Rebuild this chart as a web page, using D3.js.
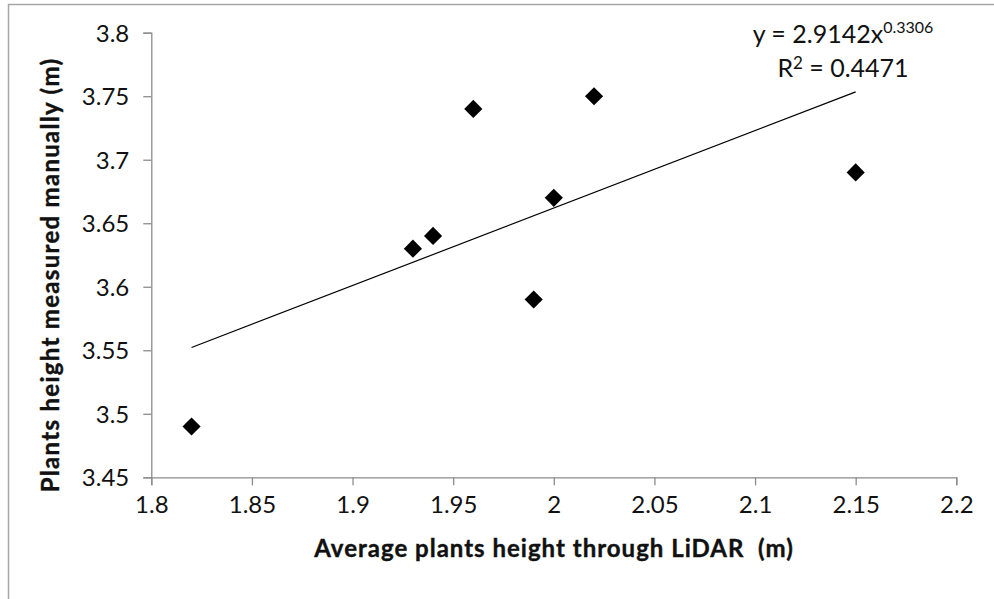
<!DOCTYPE html>
<html>
<head>
<meta charset="utf-8">
<script src="https://cdn.jsdelivr.net/npm/d3@7"></script>
<style>
  body { margin: 0; background: #fff; }
  text { font-family: Lato, "Open Sans", sans-serif; fill: #111; }
</style>
</head>
<body>
<div id="scatterplot"></div>
<script>
// datos
var lidarHeight  = [1.82, 1.93, 1.94, 1.96, 1.99, 2.00, 2.02, 2.15];
var manualHeight = [3.49, 3.63, 3.64, 3.74, 3.59, 3.67, 3.75, 3.69];
var xTicks = [1.8, 1.85, 1.9, 1.95, 2, 2.05, 2.1, 2.15, 2.2];
var yTicks = [3.45, 3.5, 3.55, 3.6, 3.65, 3.7, 3.75, 3.8];
// linea de tendencia potencial y = a*x^b (del texto del grafico)
var trendCoef = [2.9142, 0.3306];
var trendR2 = "0.4471";

var W = 994, H = 599;
var margin = {top: 32.7, left: 151.3, right: 37.7, bottom: 121.7};
var ancho = W - margin.left - margin.right;
var alto = H - margin.top - margin.bottom;

var svg1 = d3.select("#scatterplot").append("svg")
  .attr("width", W).attr("height", H);

// borde del area del grafico
svg1.append("path")
  .attr("d", "M8.5," + H + "V4.5H" + W)
  .attr("fill", "none").attr("stroke", "#a6a6a6").attr("stroke-width", 1.5);

var svg = svg1.append("g")
  .attr("transform", "translate(" + margin.left + "," + margin.top + ")");

var escalaX = d3.scaleLinear().domain([1.8, 2.2]).range([0, ancho]);
var escalaY = d3.scaleLinear().domain([3.45, 3.8]).range([alto, 0]);

var ejeX = svg.append("g")
  .attr("transform", "translate(0," + alto + ")")
  .call(d3.axisBottom(escalaX).tickValues(xTicks).tickSize(8).tickPadding(11).tickFormat(d3.format("")));
var ejeY = svg.append("g")
  .call(d3.axisLeft(escalaY).tickValues(yTicks).tickSize(8).tickPadding(14).tickFormat(d3.format("")));

[ejeX, ejeY].forEach(function(e){
  e.selectAll("path").attr("stroke", "#8c8c8c").attr("stroke-width", 1.3);
  e.selectAll("line").attr("stroke", "#8c8c8c").attr("stroke-width", 1.3);
  e.selectAll("text").style("font-size", "24px").style("fill", "#111")
    .style("font-family", "Lato, sans-serif");
});
ejeY.selectAll("text").attr("dy", "0.36em");

// linea de tendencia
var xs = d3.extent(lidarHeight);
var trendPts = xs.map(function(x){ return [x, trendCoef[0] * Math.pow(x, trendCoef[1])]; });
svg.append("path")
  .attr("d", d3.line().x(d => escalaX(d[0])).y(d => escalaY(d[1]))(trendPts))
  .attr("fill", "none").attr("stroke", "#000").attr("stroke-width", 1.2);

// puntos (rombos)
var datos = lidarHeight.map((x, i) => ({x: x, y: manualHeight[i]}));
svg.selectAll(".pt").data(datos).enter().append("path")
  .attr("class", "pt")
  .attr("d", d3.symbol(d3.symbolSquare, 165))
  .attr("transform", d => "translate(" + escalaX(d.x) + "," + escalaY(d.y) + ") rotate(45)")
  .attr("fill", "#000");

// titulos de ejes
svg1.append("text")
  .attr("x", 554).attr("y", 557)
  .attr("text-anchor", "middle")
  .style("font-size", "24px").style("font-weight", "bold").style("letter-spacing", "1px")
  .style("stroke", "#111").style("stroke-width", 0.4)
  .text("Average plants height through LiDAR\u00a0 (m)");
svg1.append("text")
  .attr("transform", "translate(59,275) rotate(-90)")
  .attr("text-anchor", "middle")
  .style("font-size", "24px").style("font-weight", "bold").style("letter-spacing", "1.3px")
  .style("stroke", "#111").style("stroke-width", 0.4)
  .text("Plants height measured manually (m)");

// ecuacion
var eq = svg1.append("text")
  .attr("x", 843).attr("y", 43)
  .attr("text-anchor", "middle")
  .style("font-size", "25px");
eq.append("tspan").text("y = " + trendCoef[0] + "x");
eq.append("tspan").attr("dy", -10).style("font-size", "16px").text(trendCoef[1]);

var r2 = svg1.append("text")
  .attr("x", 843).attr("y", 77)
  .attr("text-anchor", "middle")
  .style("font-size", "25px");
r2.append("tspan").text("R");
r2.append("tspan").attr("dy", -8).style("font-size", "17px").text("2");
r2.append("tspan").attr("dy", 8).text(" = " + trendR2);
</script>
</body>
</html>
